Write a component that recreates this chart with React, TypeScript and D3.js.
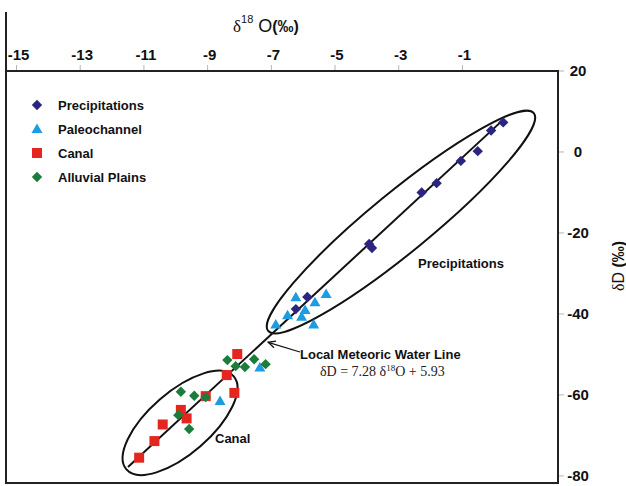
import * as d3 from 'd3';

const W = 626;
const H = 486;

// axis ticks
const xTicks = [-15, -13, -11, -9, -7, -5, -3, -1];
const yTicks = [20, 0, -20, -40, -60, -80];

// [δ18O, δD]
const precipitations: [number, number][] = [
  [0.28, 7.3], [-0.1, 5.3], [-0.52, 0.2], [-1.05, -2.2], [-1.81, -7.7],
  [-2.28, -10.0], [-3.93, -22.7], [-3.84, -23.7], [-5.87, -35.8], [-6.23, -38.8],
];
const paleochannel: [number, number][] = [
  [-5.28, -35.1], [-6.23, -35.9], [-5.63, -37.1], [-5.94, -39.0], [-6.49, -40.3],
  [-6.05, -40.7], [-5.67, -42.6], [-6.86, -42.6], [-7.36, -53.2], [-8.61, -61.5],
];
const canal: [number, number][] = [
  [-8.07, -49.9], [-8.4, -55.1], [-8.16, -59.5], [-9.06, -60.3], [-9.84, -63.7],
  [-9.66, -65.8], [-10.41, -67.3], [-10.67, -71.4], [-11.15, -75.5],
];
const alluvial: [number, number][] = [
  [-8.38, -51.4], [-8.12, -52.9], [-7.83, -53.1], [-7.54, -51.2], [-7.18, -52.4],
  [-9.84, -59.2], [-9.42, -60.2], [-9.06, -60.5], [-9.92, -65.0], [-9.58, -68.4],
];

// local meteoric water line δD = 7.28 δ18O + 5.93
const lmwlSlope = 7.28;
const lmwlIntercept = 5.93;
const lmwlRange = [-11.5, 0.3];

// ellipses: two tips of the long axis (data) and half width (px)
const precipEllipse = { a: [-7.1, -44.2], b: [1.24, 9.6], w: 30 };
const canalEllipse = { a: [-11.55, -78.4], b: [-8.18, -55.4], w: 31 };

const arrowTail = [-6.1, -49.4];
const arrowHead = [-7.1, -47.0];

const COLORS = {
  precip: '#2c2580',
  paleo: '#1c9ce2',
  canal: '#e4261f',
  alluvial: '#1a7d3c',
};

const legendItems = [
  { name: 'Precipitations', shape: 'diamond', color: COLORS.precip },
  { name: 'Paleochannel', shape: 'triangle', color: COLORS.paleo },
  { name: 'Canal', shape: 'square', color: COLORS.canal },
  { name: 'Alluvial Plains', shape: 'diamond', color: COLORS.alluvial },
];

const SANS = '"Liberation Sans", Arial, sans-serif';
const SERIF = '"Liberation Serif", "Times New Roman", serif';

const M = { left: 6, right: 558, top: 71, bottom: 484 };

function marker(shape: string, color: string, key: string | number, cx: number, cy: number) {
  if (shape === 'diamond') {
    const r = 5.2;
    return <path key={key} d={`M${cx},${cy - r}L${cx + r},${cy}L${cx},${cy + r}L${cx - r},${cy}Z`} fill={color} />;
  }
  if (shape === 'triangle') {
    return <path key={key} d={`M${cx},${cy - 5.5}L${cx + 5.5},${cy + 4}L${cx - 5.5},${cy + 4}Z`} fill={color} />;
  }
  return <rect key={key} x={cx - 5} y={cy - 5} width={10} height={10} fill={color} />;
}

export default function App() {
  const x = d3.scaleLinear().domain([-15.33, 2.0]).range([M.left, M.right]);
  const y = d3.scaleLinear().domain([20, -82]).range([M.top, M.bottom]);

  const line = d3.line<number>()
    .x((d) => x(d))
    .y((d) => y(lmwlSlope * d + lmwlIntercept));

  const ellipse = (e: { a: number[]; b: number[]; w: number }, key: string) => {
    const x1 = x(e.a[0]), y1 = y(e.a[1]);
    const x2 = x(e.b[0]), y2 = y(e.b[1]);
    const cx = (x1 + x2) / 2;
    const cy = (y1 + y2) / 2;
    const rx = Math.hypot(x2 - x1, y2 - y1) / 2;
    const ang = (Math.atan2(y2 - y1, x2 - x1) * 180) / Math.PI;
    return (
      <ellipse key={key} cx={cx} cy={cy} rx={rx} ry={e.w} fill="none" stroke="#111" strokeWidth={2}
        transform={`rotate(${ang},${cx},${cy})`} />
    );
  };

  const hx = x(arrowHead[0]), hy = y(arrowHead[1]);
  const tx = x(arrowTail[0]), ty = y(arrowTail[1]);
  const aAng = Math.atan2(ty - hy, tx - hx);
  const hl = 8;
  const headPath = `M${hx + hl * Math.cos(aAng - 0.45)},${hy + hl * Math.sin(aAng - 0.45)}L${hx},${hy}L${hx + hl * Math.cos(aAng + 0.45)},${hy + hl * Math.sin(aAng + 0.45)}`;

  return (
    <svg width={W} height={H} style={{ position: 'absolute', left: 0, top: 0, background: '#fff' }}>
      {/* top axis ticks and labels */}
      {xTicks.map((t) => (
        <g key={`xt${t}`}>
          <line x1={x(t)} x2={x(t)} y1={M.top - 6} y2={M.top} stroke="#b5b5b5" strokeWidth={1} />
          <text x={x(t) + 2} y={60} textAnchor="middle" fontFamily={SANS} fontWeight="bold" fontSize={15} fill="#111">
            {t}
          </text>
        </g>
      ))}
      {/* right axis ticks and labels */}
      {yTicks.map((t) => (
        <g key={`yt${t}`}>
          <line x1={M.right} x2={M.right + 6} y1={y(t)} y2={y(t)} stroke="#b5b5b5" strokeWidth={1} />
          <text x={578} y={y(t) + 5} textAnchor="middle" fontFamily={SANS} fontWeight="bold" fontSize={15} fill="#111">
            {t}
          </text>
        </g>
      ))}

      {/* axis titles */}
      <text x={233} y={32} fontFamily={SANS} fontSize={18} fill="#111">
        <tspan fontFamily={SERIF} fontSize={17}>δ</tspan>
        <tspan dy={-9} fontSize={11}>18</tspan>
        <tspan dy={9}> O</tspan>
        <tspan fontWeight="bold" fontSize={16}>(‰)</tspan>
      </text>
      <text transform="translate(624,266) rotate(-90)" textAnchor="middle" fontFamily={SANS} fontSize={16} fill="#111">
        <tspan fontFamily={SERIF}>δ</tspan>D <tspan fontWeight="bold">(‰)</tspan>
      </text>

      {/* frame */}
      <line x1={M.left} x2={M.left} y1={12} y2={M.bottom} stroke="#222" strokeWidth={2} />
      <rect x={M.left} y={M.top} width={M.right - M.left} height={M.bottom - M.top - 1} fill="none" stroke="#222" strokeWidth={2} />

      {/* LMWL */}
      <path d={line(lmwlRange) ?? ''} fill="none" stroke="#111" strokeWidth={2} />

      {/* ellipses */}
      {ellipse(precipEllipse, 'e1')}
      {ellipse(canalEllipse, 'e2')}

      {/* points */}
      {precipitations.map((d, i) => marker('diamond', COLORS.precip, `p${i}`, x(d[0]), y(d[1])))}
      {paleochannel.map((d, i) => marker('triangle', COLORS.paleo, `t${i}`, x(d[0]), y(d[1])))}
      {canal.map((d, i) => marker('square', COLORS.canal, `c${i}`, x(d[0]), y(d[1])))}
      {alluvial.map((d, i) => marker('diamond', COLORS.alluvial, `a${i}`, x(d[0]), y(d[1])))}

      {/* annotation arrow */}
      <line x1={tx} y1={ty} x2={hx} y2={hy} stroke="#111" strokeWidth={1.3} />
      <path d={headPath} fill="none" stroke="#111" strokeWidth={1.3} />
      <text x={300} y={359} fontFamily={SANS} fontWeight="bold" fontSize={13} fill="#111">
        Local Meteoric Water Line
      </text>
      <text x={320} y={376} fontFamily={SERIF} fontSize={14} fill="#222">
        δD = 7.28 δ<tspan dy={-5} fontSize={9}>18</tspan><tspan dy={5}>O + 5.93</tspan>
      </text>

      {/* ellipse labels */}
      <text x={418} y={268} fontFamily={SANS} fontWeight="bold" fontSize={13} fill="#111">Precipitations</text>
      <text x={215} y={443} fontFamily={SANS} fontWeight="bold" fontSize={13} fill="#111">Canal</text>

      {/* legend */}
      {legendItems.map((it, i) => (
        <g key={it.name}>
          {marker(it.shape, it.color, `l${i}`, 37, 105 + i * 24)}
          <text x={58} y={105 + i * 24 + 5} fontFamily={SANS} fontWeight="bold" fontSize={13} fill="#111">
            {it.name}
          </text>
        </g>
      ))}
    </svg>
  );
}
